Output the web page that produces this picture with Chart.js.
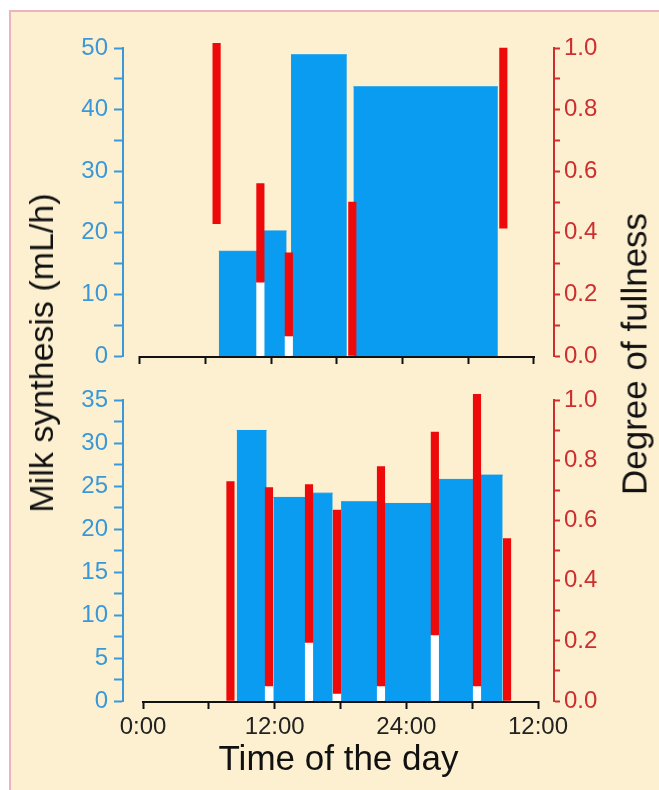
<!DOCTYPE html>
<html>
<head>
<meta charset="utf-8">
<script src="https://cdn.jsdelivr.net/npm/chart.js@4.4.0/dist/chart.umd.min.js"></script>
<style>
    body { margin: 0; background: #fff; width: 659px; height: 790px; overflow: hidden; position: relative; font-family: 'Liberation Sans', Arial, sans-serif; }
    #frame { position: absolute; left: 9px; top: 10px; width: 650px; height: 780px; background: #fcf0d0; border-left: 2px solid #ebb4c0; border-top: 2px solid #ebb4c0; box-sizing: border-box; }
    canvas { position: absolute; left: 0; }
    #topPanel { top: 0; }
    #bottomPanel { top: 380px; }
    .ytitle { position: absolute; line-height: 1; white-space: nowrap; color: #111; transform: translate(-50%, -50%) rotate(-90deg); }
</style>
</head>
<body>
<div id="frame"></div>
<canvas id="topPanel" width="659" height="380"></canvas>
<canvas id="bottomPanel" width="659" height="410"></canvas>
<div class="ytitle" style="left:41px; top:353px; font-size:34px;">Milk synthesis (mL/h)</div>
<div class="ytitle" style="left:634px; top:354px; font-size:35px;">Degree of fullness</div>
<script>
// time in hours from 0:00 of the first day (36 = 12:00 next day)
const hourTicks = [0, 6, 12, 18, 24, 30, 36];
const hourLabels = ['0:00', '', '12:00', '', '24:00', '', '12:00'];

// top panel: synthesis rate between feeds
const topSynthStart = [7.2, 11.2, 13.8, 19.5];
const topSynthEnd = [10.7, 13.4, 18.9, 32.7];
const topSynthRate = [17.0, 20.3, 48.9, 43.7];
// top panel: feeds, fullness before and after
const topFeedTime = [7.0, 11.0, 13.6, 19.4, 33.2];
const topFullBefore = [1.015, 0.56, 0.335, 0.50, 1.0];
const topFullAfter = [0.43, 0.24, 0.065, 0.0, 0.415];

// bottom panel
const botSynthStart = [8.54, 11.88, 15.43, 18.05, 21.96, 26.82, 30.71];
const botSynthEnd = [11.27, 14.77, 17.29, 21.4, 26.31, 30.08, 32.78];
const botSynthRate = [31.5, 23.7, 24.2, 23.2, 23.0, 25.8, 26.3];
const botFeedTime = [7.97, 11.48, 15.13, 17.68, 21.69, 26.6, 30.44, 33.18];
const botFullBefore = [0.73, 0.71, 0.72, 0.635, 0.78, 0.895, 1.02, 0.54];
const botFullAfter = [0, 0.05, 0.195, 0.025, 0.05, 0.22, 0.05, 0];

const FONT = "'Liberation Sans', Arial, sans-serif";
const BLUE = '#0a9cf0';
const BLUE_AXIS = '#3a98d8';
const RED = '#ee0a0a';
const RED_AXIS = '#cc2f2f';

Chart.defaults.font.family = FONT;

// red bar sits in the gap between two synthesis blocks -> white strip below it
function inGap(t, starts, ends) {
    return ends.some(e => e <= t + 0.6) && starts.some(s => s >= t - 0.6);
}

function makeTicks(max, step) {
    const out = [];
    for (let i = 0; i * step <= max + 1e-9; i++) out.push({ value: Math.round(i * step * 1000) / 1000 });
    return out;
}

// x axis line only from 0:00 to 12:00 next day
const axisLinePlugin = {
    id: 'axisLine',
    afterDraw(chart) {
        const x = chart.scales.x, ctx = chart.ctx;
        const y = chart.chartArea.bottom + 1;
        ctx.save();
        ctx.strokeStyle = '#111';
        ctx.lineWidth = 2;
        ctx.beginPath();
        ctx.moveTo(x.getPixelForValue(0) - 1, y);
        ctx.lineTo(x.getPixelForValue(36) + 1, y);
        ctx.stroke();
        ctx.restore();
    }
};

function makePanel(id, p) {
    const blueSets = p.start.map((s, i) => ({
        type: 'line',
        data: [{ x: s, y: p.rate[i] }, { x: p.end[i], y: p.rate[i] }],
        yAxisID: 'y',
        borderColor: BLUE,
        borderWidth: 1,
        backgroundColor: BLUE,
        fill: 'origin',
        pointRadius: 0,
        order: 3
    }));

    const gapData = p.feed
        .map((t, i) => ({ x: t, y: [0, p.after[i]] }))
        .filter((d, i) => p.after[i] > 0 && inGap(d.x, p.start, p.end));

    const whiteSet = {
        type: 'bar',
        data: gapData,
        yAxisID: 'y2',
        backgroundColor: '#ffffff',
        barThickness: 7.5,
        grouped: false,
        order: 2
    };

    const redSet = {
        type: 'bar',
        data: p.feed.map((t, i) => ({ x: t, y: [p.after[i], p.before[i]] })),
        yAxisID: 'y2',
        backgroundColor: RED,
        barThickness: 7.5,
        grouped: false,
        clip: false,
        order: 1
    };

    const ctx = document.getElementById(id).getContext('2d');
    return new Chart(ctx, {
        type: 'bar',
        data: { datasets: [...blueSets, whiteSet, redSet] },
        plugins: [axisLinePlugin],
        options: {
            responsive: false,
            animation: false,
            layout: { padding: { top: p.padTop, left: 0, right: 0, bottom: 0 } },
            plugins: { legend: { display: false }, tooltip: { enabled: false } },
            scales: {
                x: {
                    type: 'linear',
                    min: p.xMin,
                    max: p.xMax,
                    offset: false,
                    afterBuildTicks: s => { s.ticks = hourTicks.map(v => ({ value: v })); },
                    afterFit: s => { s.height = p.xHeight; },
                    border: { display: false },
                    grid: { drawOnChartArea: false, offset: false, tickLength: 8, tickWidth: 2, tickColor: '#111' },
                    ticks: {
                        autoSkip: false,
                        maxRotation: 0,
                        padding: 4,
                        color: '#222',
                        font: { size: 24 },
                        callback: v => p.showLabels ? hourLabels[hourTicks.indexOf(v)] : ''
                    },
                    title: {
                        display: p.showLabels,
                        text: 'Time of the day',
                        color: '#111',
                        font: { size: 35 },
                        padding: { top: 0, bottom: 9 }
                    }
                },
                y: {
                    position: 'left',
                    min: 0,
                    max: p.yMax,
                    afterBuildTicks: s => { s.ticks = makeTicks(p.yMax, p.yMinor); },
                    afterFit: s => { s.width = 123; },
                    border: { color: BLUE_AXIS, width: 2 },
                    grid: { drawOnChartArea: false, tickLength: 9, tickWidth: 2, tickColor: BLUE_AXIS },
                    ticks: {
                        autoSkip: false,
                        padding: 6,
                        color: BLUE_AXIS,
                        font: { size: 24 },
                        callback: v => Math.abs(v / p.yMajor - Math.round(v / p.yMajor)) < 1e-6 ? String(v) : ''
                    }
                },
                y2: {
                    position: 'right',
                    min: 0,
                    max: 1,
                    afterBuildTicks: s => { s.ticks = makeTicks(1, 0.1); },
                    afterFit: s => { s.width = 105; },
                    border: { color: RED_AXIS, width: 2 },
                    grid: { drawOnChartArea: false, tickLength: 6, tickWidth: 2, tickColor: RED_AXIS },
                    ticks: {
                        autoSkip: false,
                        padding: 4,
                        color: RED_AXIS,
                        font: { size: 24 },
                        callback: v => Math.abs(v / 0.2 - Math.round(v / 0.2)) < 1e-6 ? v.toFixed(1) : ''
                    }
                }
            }
        }
    });
}

makePanel('topPanel', {
    start: topSynthStart, end: topSynthEnd, rate: topSynthRate,
    feed: topFeedTime, before: topFullBefore, after: topFullAfter,
    yMax: 50, yMinor: 5, yMajor: 10,
    xMin: -1.553, xMax: 37.83,
    padTop: 48, xHeight: 24, showLabels: false
});

makePanel('bottomPanel', {
    start: botSynthStart, end: botSynthEnd, rate: botSynthRate,
    feed: botFeedTime, before: botFullBefore, after: botFullAfter,
    yMax: 35, yMinor: 2.5, yMajor: 5,
    xMin: -1.823, xMax: 37.458,
    padTop: 14, xHeight: 89, showLabels: true
});
</script>
</body>
</html>
